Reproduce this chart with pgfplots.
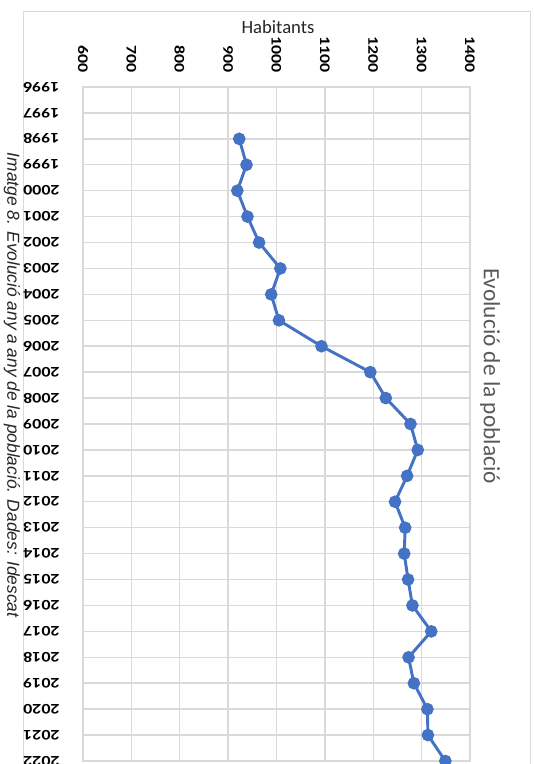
\documentclass[border=0pt]{standalone}
\usepackage{pgfplots}
\pgfplotsset{compat=1.18}
\usepackage{fontspec}
\setmainfont{Carlito}
\newfontfamily\arialfont{Liberation Sans}
\definecolor{lineblue}{HTML}{4472C4}
\definecolor{gridgray}{HTML}{D9D9D9}
\definecolor{titlegray}{HTML}{595959}
\definecolor{labelgray}{HTML}{262626}
\begin{document}
\begin{tikzpicture}
\clip (0,0) rectangle (399.75pt,573pt);
\fill[white] (0,0) rectangle (399.75pt,573pt);
\draw[gridgray, line width=0.75pt] (17.25pt,0) -- (17.25pt,564pt) -- (397.5pt,564pt) -- (397.5pt,0);
\begin{axis}[
  at={(62.25pt,507.75pt)}, anchor=north west,
  scale only axis, width=290.25pt, height=505.5pt,
  xmin=600, xmax=1400, ymin=1996, ymax=2022,
  y dir=reverse,
  xtick={600,700,...,1400}, ytick={1996,...,2022},
  xticklabel pos=upper,
  grid=major, major grid style={gridgray, line width=1.1pt},
  axis line style={gridgray, line width=1.1pt},
  major tick length=0pt,
  /pgf/number format/assume math mode=true,
  /pgf/number format/1000 sep={},
  ticklabel style={font=\fontsize{11}{13}\selectfont\bfseries},
  xticklabel={\scalebox{1.22}[1]{\pgfmathprintnumber{\tick}}},
  yticklabel={\scalebox{1.22}[1]{\pgfmathprintnumber{\tick}}},
  xticklabel style={rotate=-90, anchor=east},
  yticklabel style={rotate=180, anchor=west},
  xticklabel shift=7.5pt,
  yticklabel shift=14pt,
]
\addplot[lineblue, line width=2.2pt, mark=*, mark size=3.6pt, mark options={fill=lineblue, draw=lineblue}] coordinates {
(923,1998) (938,1999) (919,2000) (940,2001) (964,2002) (1008,2003) (989,2004) (1005,2005)
(1093,2006) (1194,2007) (1226,2008) (1277,2009) (1292,2010) (1270,2011) (1245,2012) (1266,2013)
(1264,2014) (1272,2015) (1281,2016) (1320,2017) (1273,2018) (1284,2019) (1312,2020) (1313,2021) (1349,2022)
};
\end{axis}
\node[text=labelgray, font=\fontsize{14}{16}\selectfont] at (208.5pt,552.75pt) {Habitants};
\node[text=titlegray, font=\fontsize{17.5}{20}\selectfont, rotate=-90] at (367.5pt,291pt) {Evolució de la població};
\node[text=black!85, font=\arialfont\itshape\fontsize{13}{15}\selectfont, rotate=-90] at (9pt,284.25pt) {Imatge 8. Evolució any a any de la població. Dades: Idescat};
\end{tikzpicture}
\end{document}
